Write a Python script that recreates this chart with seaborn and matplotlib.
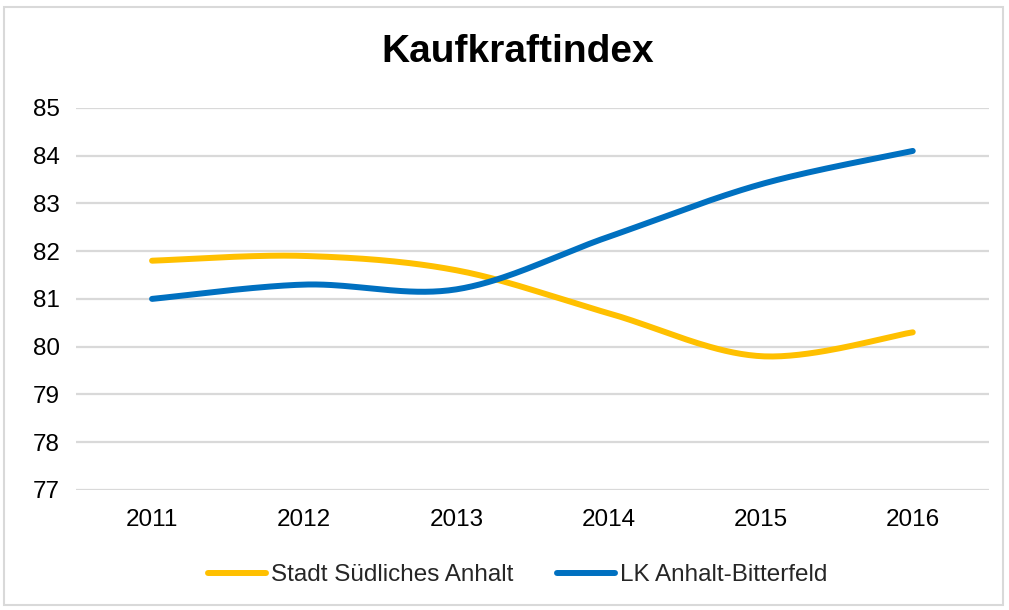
"""
Kaufkraftindex - smoothed line chart (Stadt Südliches Anhalt vs. LK Anhalt-Bitterfeld)
"""
import numpy as np
import pandas as pd
import matplotlib
matplotlib.use("Agg")
import matplotlib.pyplot as plt
from matplotlib.lines import Line2D
from matplotlib.patches import Rectangle
import seaborn as sns

# ── Data ──────────────────────────────────────────────────────
years = ["2011", "2012", "2013", "2014", "2015", "2016"]
stadt = [81.8, 81.9, 81.6, 80.7, 79.8, 80.3]
landkreis = [81.0, 81.3, 81.2, 82.3, 83.4, 84.1]
series_names = ["Stadt Südliches Anhalt", "LK Anhalt-Bitterfeld"]
y_ticks = [77, 78, 79, 80, 81, 82, 83, 84, 85]

COLORS = {
    "Stadt Südliches Anhalt": "#FFC000",
    "LK Anhalt-Bitterfeld": "#0070C0",
    "grid": "#D9D9D9",
    "text": "#000000",
}

sns.set_style("white")
plt.rcParams["font.family"] = ["Liberation Sans", "DejaVu Sans"]


def smooth_curve(values, n=40):
    """Excel-style smoothed line (Catmull-Rom / cubic Bezier segments)."""
    x = np.arange(len(values), dtype=float)
    y = np.asarray(values, dtype=float)
    pts = np.column_stack([x, y])
    padded = np.vstack([pts[0], pts, pts[-1]])
    out = []
    t = np.linspace(0, 1, n)[:, None]
    for i in range(len(pts) - 1):
        p0, p1, p2, p3 = padded[i], padded[i + 1], padded[i + 2], padded[i + 3]
        c1 = p1 + (p2 - p0) / 6
        c2 = p2 - (p3 - p1) / 6
        seg = ((1 - t) ** 3) * p1 + 3 * ((1 - t) ** 2) * t * c1 \
            + 3 * (1 - t) * t ** 2 * c2 + t ** 3 * p2
        out.append(seg if i == 0 else seg[1:])
    return np.vstack(out)


frames = []
for name, vals in zip(series_names, [stadt, landkreis]):
    curve = smooth_curve(vals)
    frames.append(pd.DataFrame({"x": curve[:, 0], "y": curve[:, 1], "series": name}))
df = pd.concat(frames, ignore_index=True)

fig = plt.figure(figsize=(10.09, 6.10), dpi=100)
ax = fig.add_axes([0.0753, 0.197, 0.9047, 0.626])

# gridlines
for yt in y_ticks:
    ax.axhline(yt, color=COLORS["grid"], lw=1.6, zorder=0)

sns.lineplot(
    data=df, x="x", y="y", hue="series", hue_order=series_names,
    palette=[COLORS[s] for s in series_names],
    estimator=None, sort=False, lw=4.3, ax=ax, legend=False,
)
for line in ax.lines:
    line.set_solid_capstyle("round")

ax.set_xlim(-0.5, len(years) - 0.5)
ax.set_ylim(77, 85)
ax.set_xticks(range(len(years)))
ax.set_xticklabels(years)
ax.set_yticks(y_ticks)
ax.tick_params(axis="x", length=0, pad=14, labelsize=17.5, colors=COLORS["text"])
ax.tick_params(axis="y", length=0, pad=11.5, labelsize=17.5, colors=COLORS["text"])
ax.set_xlabel("")
ax.set_ylabel("")
sns.despine(ax=ax, left=True, bottom=True)

fig.text(0.513, 0.915, "Kaufkraftindex", ha="center", va="center",
         fontsize=28, fontweight="bold", color=COLORS["text"])

handles = [Line2D([0], [0], color=COLORS[s], lw=4.3, solid_capstyle="round")
           for s in series_names]
fig.legend(handles, series_names, loc="center", bbox_to_anchor=(0.513, 0.057),
           ncol=2, frameon=False, fontsize=17.5, handlelength=2.4,
           handletextpad=0.2, columnspacing=1.8)

# outer chart border
fig.patches.append(Rectangle((0.004, 0.008), 0.99, 0.981, transform=fig.transFigure,
                             fill=False, edgecolor=COLORS["grid"], lw=1.5))

fig.savefig("out.png", dpi=100, facecolor="white")
plt.close(fig)
